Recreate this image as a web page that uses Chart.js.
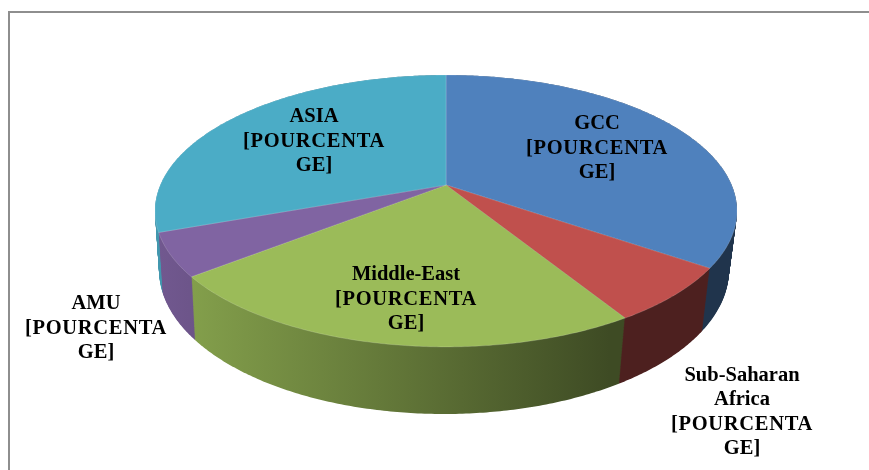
<!DOCTYPE html>
<html>
<head>
<meta charset="utf-8">
<style>html,body{margin:0;padding:0;background:#fff}#w{position:relative;width:869px;height:470px}</style>
<script src="https://cdn.jsdelivr.net/npm/chart.js@4/dist/chart.umd.js"></script>
</head>
<body>
<div id="w"><canvas id="c" width="869" height="470"></canvas></div>
<script>
const categories = ['GCC', 'Sub-Saharan Africa', 'Middle-East', 'AMU', 'ASIA'];
const shares = [34.6, 6.6, 23.2, 5.1, 30.5];
const sliceColors = ['#4f81bd', '#c0504d', '#9bbb59', '#8064a2', '#4bacc6'];
const labelLines = [
  ['GCC', '[POURCENTA', 'GE]'],
  ['Sub-Saharan', 'Africa', '[POURCENTA', 'GE]'],
  ['Middle-East', '[POURCENTA', 'GE]'],
  ['AMU', '[POURCENTA', 'GE]'],
  ['ASIA', '[POURCENTA', 'GE]']
];
const labelCenters = [[597, 124], [742, 375.5], [406, 275], [96, 304], [314, 117]];

// perspective of the pie top and of its lower rim
const K = 0.191;
const TOP = {ax: 1.544, by: 0.708, dx: 0, dy: 0};
const BOT = {ax: 1.512, by: 0.750, dx: -2, dy: 57.5};
const DEPTH_STEPS = 80;

function level(t) {
  return {
    ax: TOP.ax + (BOT.ax - TOP.ax) * t,
    by: TOP.by + (BOT.by - TOP.by) * t,
    dx: TOP.dx + (BOT.dx - TOP.dx) * t,
    dy: TOP.dy + (BOT.dy - TOP.dy) * t
  };
}
function project(arc, g, a) {
  const u = Math.cos(a), p = Math.sin(a), w = 1 - K * p, R = arc.outerRadius;
  return [arc.x + g.dx + g.ax * R * u / w, arc.y + g.dy + g.by * R * p / w];
}
function shade(hex, f) {
  const n = parseInt(hex.slice(1), 16);
  return `rgb(${Math.round((n >> 16) * f)},${Math.round(((n >> 8) & 255) * f)},${Math.round((n & 255) * f)})`;
}
function sampleAngles(s, e) {
  const n = Math.max(4, Math.ceil((e - s) / 0.01)), out = [];
  for (let i = 0; i <= n; i++) out.push(s + (e - s) * i / n);
  return out;
}
function wedge(ctx, arc, g) {
  ctx.beginPath();
  ctx.moveTo(arc.x + g.dx, arc.y + g.dy);
  for (const a of sampleAngles(arc.startAngle, arc.endAngle)) {
    const [px, py] = project(arc, g, a);
    ctx.lineTo(px, py);
  }
  ctx.closePath();
}

class PerspectiveArc extends Chart.ArcElement {
  static id = 'perspectiveArc';
  draw(ctx) {
    ctx.save();
    wedge(ctx, this, TOP);
    ctx.fillStyle = this.options.backgroundColor;
    ctx.fill();
    ctx.strokeStyle = 'rgba(255,255,255,0.16)';
    ctx.lineWidth = 1;
    ctx.stroke();
    ctx.restore();
  }
}

class Pie3DController extends Chart.PieController {
  static id = 'pie3d';
  static defaults = Object.assign({}, Chart.PieController.defaults, {dataElementType: 'perspectiveArc'});
  static overrides = Chart.PieController.overrides;
  draw() {
    const ctx = this.chart.ctx, arcs = this.getMeta().data;
    const order = [0, 4, 3, 1, 2];
    for (const i of order) {
      const arc = arcs[i];
      const col = arc.options.backgroundColor;
      const grad = ctx.createLinearGradient(160, 0, 610, 0);
      grad.addColorStop(0, shade(col, 0.88));
      grad.addColorStop(0.55, shade(col, 0.62));
      grad.addColorStop(1, shade(col, 0.40));
      ctx.save();
      ctx.fillStyle = grad;
      for (let s = DEPTH_STEPS; s >= 0; s--) {
        wedge(ctx, arc, level(s / DEPTH_STEPS));
        ctx.fill();
      }
      ctx.restore();
    }
    super.draw();
  }
}
Chart.register(PerspectiveArc, Pie3DController);

const framePlugin = {
  id: 'frame',
  beforeDraw(chart) {
    const c = chart.ctx;
    c.save();
    c.fillStyle = '#fff';
    c.fillRect(0, 0, chart.width, chart.height);
    c.strokeStyle = '#8e8e8e';
    c.lineWidth = 2;
    c.beginPath();
    c.moveTo(9, chart.height);
    c.lineTo(9, 12);
    c.lineTo(chart.width, 12);
    c.stroke();
    c.restore();
  }
};
const labelPlugin = {
  id: 'sliceLabels',
  afterDraw(chart) {
    const c = chart.ctx;
    c.save();
    c.fillStyle = '#000';
    c.font = 'bold 20.5px "Liberation Serif"';
    c.textAlign = 'center';
    c.textBaseline = 'middle';
    labelLines.forEach((lines, i) => {
      const [x, y] = labelCenters[i];
      lines.forEach((t, j) => {
        c.letterSpacing = t === t.toUpperCase() && t.length > 4 ? '0.7px' : '0px';
        c.fillText(t, x, y + j * 24.4);
      });
    });
    c.restore();
  }
};

new Chart(document.getElementById('c'), {
  type: 'pie3d',
  data: {
    labels: categories,
    datasets: [{data: shares, backgroundColor: sliceColors, borderWidth: 0}]
  },
  options: {
    responsive: false,
    animation: false,
    events: [],
    layout: {padding: {left: 23, right: 0, top: 0, bottom: 100}},
    plugins: {legend: {display: false}, tooltip: {enabled: false}}
  },
  plugins: [framePlugin, labelPlugin]
});
</script>
</body>
</html>
